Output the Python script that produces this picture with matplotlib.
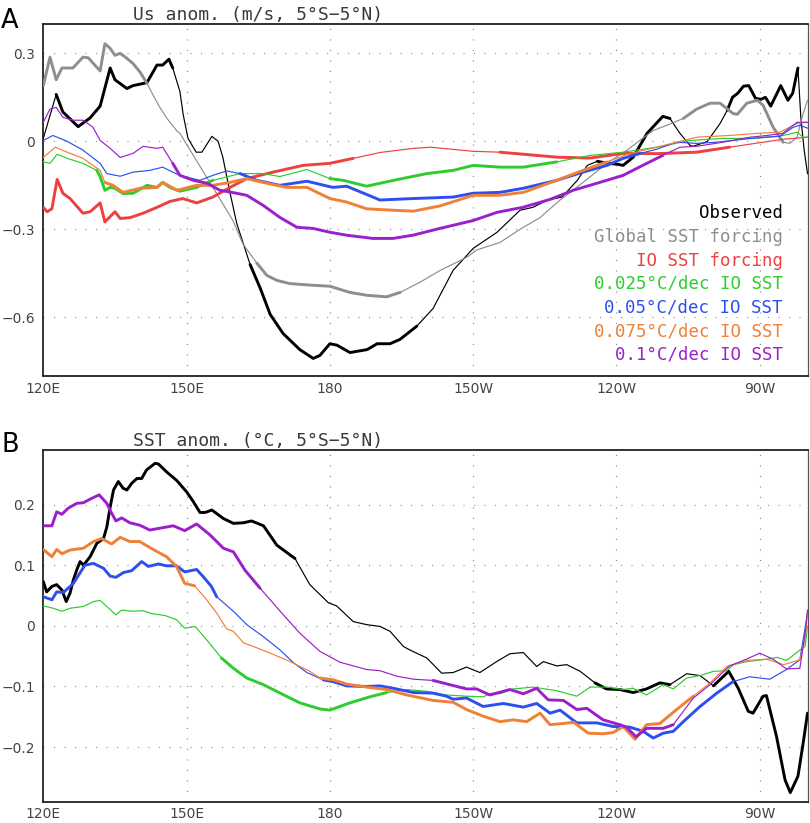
import numpy as np
import matplotlib
matplotlib.use("Agg")
import matplotlib.pyplot as plt

# ---------------- DATA ----------------
# Panel A: Us anomaly (m/s); longitudes in degrees east (0-360)
obsA_lon = [120.0,122.7,124.1,127.3,129.8,131.9,134.0,135.0,137.5,138.8,141.7,143.8,145.0,146.3,147.1,148.6,149.3,150.3,152.0,153.2,155.3,156.6,157.6,159.1,160.5,161.6,163.3,165.4,167.5,170.2,173.7,176.5,177.9,180.0,181.5,184.2,187.8,189.9,192.6,194.7,198.2,201.6,205.8,210.0,215.0,219.8,222.5,225.6,228.6,231.8,233.9,236.0,238.1,240.2,241.4,243.5,246.4,249.7,251.2,253.3,255.4,256.0,259.0,261.7,263.2,264.3,265.4,266.6,267.7,269.1,270.2,271.2,272.3,274.4,275.9,276.9,278.0,278.6,279.3,280.0]
obsA_val = [0.01,0.16,0.10,0.05,0.08,0.12,0.25,0.21,0.18,0.19,0.20,0.26,0.26,0.28,0.25,0.17,0.09,0.01,-0.037,-0.037,0.017,0.0,-0.055,-0.176,-0.28,-0.335,-0.42,-0.50,-0.59,-0.655,-0.71,-0.74,-0.73,-0.69,-0.695,-0.72,-0.71,-0.69,-0.69,-0.675,-0.63,-0.57,-0.44,-0.365,-0.31,-0.235,-0.225,-0.20,-0.19,-0.133,-0.082,-0.068,-0.075,-0.078,-0.082,-0.054,0.027,0.085,0.078,0.027,-0.014,-0.017,-0.001,0.061,0.106,0.15,0.164,0.188,0.19,0.147,0.143,0.15,0.12,0.19,0.14,0.164,0.25,0.082,-0.03,-0.11]
glbA_lon = [120.0,121.4,122.7,123.9,125.0,126.2,128.3,129.4,131.9,132.9,134.0,135.0,136.1,137.5,138.8,140.3,141.7,143.0,144.4,145.9,148.0,148.6,152.8,155.5,158.4,159.7,161.8,164.7,166.8,168.9,171.6,175.8,180.0,184.2,187.8,191.9,194.7,198.9,203.1,208.7,210.8,215.6,219.8,224.0,228.2,233.8,238.0,242.2,244.9,247.7,250.6,254.0,256.8,259.6,261.7,264.4,265.3,267.3,269.5,270.7,272.8,274.9,276.3,277.8,279.1,280.0]
glbA_val = [0.19,0.287,0.21,0.25,0.25,0.25,0.287,0.285,0.24,0.333,0.317,0.293,0.30,0.283,0.265,0.235,0.198,0.157,0.116,0.078,0.035,0.027,-0.085,-0.157,-0.235,-0.27,-0.35,-0.415,-0.457,-0.474,-0.485,-0.49,-0.494,-0.515,-0.525,-0.53,-0.515,-0.48,-0.44,-0.395,-0.37,-0.345,-0.30,-0.26,-0.20,-0.13,-0.075,-0.03,0.003,0.037,0.055,0.078,0.11,0.13,0.13,0.095,0.092,0.13,0.14,0.123,0.048,-0.003,-0.007,0.014,0.095,0.14]
ioA_lon = [120.0,120.8,121.8,122.9,124.1,125.6,128.3,129.8,131.9,132.9,135.0,136.1,138.2,140.9,143.8,146.5,149.2,152.1,155.5,159.1,162.6,168.1,174.4,180.0,184.9,190.5,197.5,201.1,210.0,215.6,227.5,234.5,241.4,248.4,256.8,263.7,270.7,274.9,280.0]
ioA_val = [-0.225,-0.24,-0.23,-0.13,-0.177,-0.195,-0.245,-0.24,-0.21,-0.275,-0.24,-0.263,-0.26,-0.245,-0.225,-0.205,-0.195,-0.21,-0.19,-0.157,-0.127,-0.105,-0.082,-0.075,-0.058,-0.038,-0.024,-0.02,-0.034,-0.037,-0.054,-0.057,-0.041,-0.042,-0.037,-0.02,-0.003,0.007,0.014]
g025A_lon = [120.0,121.4,122.9,125.0,128.3,131.2,131.9,132.9,134.0,135.0,136.7,138.8,141.7,143.8,145.0,146.5,148.6,152.1,155.5,161.2,166.0,169.5,175.2,180.0,182.8,187.7,193.3,200.3,205.8,210.0,215.6,220.5,227.5,234.5,241.4,248.4,255.4,262.3,269.4,274.9,277.8,279.1,280.0]
g025A_val = [-0.07,-0.075,-0.044,-0.058,-0.075,-0.099,-0.12,-0.167,-0.157,-0.16,-0.178,-0.177,-0.15,-0.157,-0.14,-0.157,-0.17,-0.157,-0.133,-0.11,-0.11,-0.12,-0.096,-0.127,-0.133,-0.153,-0.133,-0.11,-0.099,-0.082,-0.088,-0.088,-0.07,-0.048,-0.037,-0.02,0.003,0.01,0.01,0.02,0.031,0.014,0.014]
b05A_lon = [120.0,122.0,125.0,128.3,131.9,133.3,136.1,138.8,142.3,145.0,147.1,148.6,152.8,155.5,158.4,161.2,164.7,169.5,175.2,180.6,183.5,190.5,197.5,205.8,210.0,215.6,220.5,227.5,233.0,238.0,241.4,245.0,248.4,252.6,256.8,261.0,266.5,270.7,274.2,277.0,278.4,280.0]
b05A_val = [0.003,0.02,0.0,-0.03,-0.075,-0.11,-0.119,-0.105,-0.099,-0.088,-0.105,-0.116,-0.133,-0.116,-0.101,-0.11,-0.133,-0.15,-0.136,-0.157,-0.153,-0.20,-0.195,-0.19,-0.177,-0.174,-0.16,-0.133,-0.105,-0.082,-0.058,-0.041,-0.027,-0.003,-0.007,-0.003,0.007,0.014,0.017,0.048,0.055,0.045]
o075A_lon = [120.0,122.5,125.0,128.3,131.9,132.9,134.6,136.7,140.3,143.8,145.0,148.0,152.1,155.5,159.1,162.6,166.8,171.0,175.2,180.0,183.5,187.7,193.3,197.5,203.1,210.0,215.6,220.5,227.5,233.0,238.0,242.9,248.4,252.6,256.8,263.7,269.4,274.2,277.8,280.0]
o075A_val = [-0.055,-0.02,-0.037,-0.058,-0.099,-0.14,-0.15,-0.174,-0.16,-0.157,-0.14,-0.167,-0.15,-0.15,-0.14,-0.127,-0.143,-0.157,-0.157,-0.195,-0.207,-0.23,-0.235,-0.238,-0.22,-0.184,-0.184,-0.174,-0.133,-0.099,-0.07,-0.041,-0.02,-0.003,0.014,0.02,0.027,0.031,0.061,0.065]
p1A_lon = [120.0,121.4,122.7,124.1,126.2,128.3,130.4,131.9,134.0,136.1,138.8,140.9,143.8,145.0,147.1,148.6,151.4,154.3,157.0,159.8,162.6,166.0,169.5,173.1,176.5,180.0,183.5,189.0,193.2,197.4,203.0,210.0,215.0,220.4,226.1,230.9,235.9,241.4,245.5,249.7,253.3,256.8,262.3,267.9,271.5,274.8,277.8,280.0]
p1A_val = [0.065,0.11,0.116,0.082,0.072,0.072,0.048,0.003,-0.024,-0.055,-0.041,-0.017,-0.024,-0.02,-0.075,-0.116,-0.133,-0.143,-0.167,-0.175,-0.184,-0.218,-0.259,-0.293,-0.297,-0.31,-0.32,-0.331,-0.331,-0.32,-0.297,-0.27,-0.242,-0.225,-0.198,-0.167,-0.143,-0.116,-0.082,-0.048,-0.02,-0.017,-0.003,0.014,0.02,0.027,0.065,0.065]

# Panel B: SST anomaly (deg C)
obsB_lon = [120.0,120.7,121.8,122.8,123.9,124.8,125.6,126.3,127.0,127.7,128.4,129.8,131.2,132.6,133.3,134.0,134.7,135.7,136.7,137.5,138.5,139.6,140.6,141.6,143.4,144.1,145.8,147.9,150.0,151.4,152.8,153.9,155.3,157.7,159.8,161.9,163.6,166.1,168.9,172.7,175.8,179.7,181.4,184.9,187.7,190.5,192.6,195.4,196.8,200.3,203.4,205.8,208.6,211.4,214.9,217.7,220.5,223.3,224.7,227.5,229.6,232.4,235.5,237.9,240.7,243.5,246.3,249.1,251.2,254.7,257.5,260.3,263.5,265.5,267.6,268.6,270.7,271.4,273.5,275.3,276.4,278.0,279.1,280.0]
obsB_val = [0.073,0.056,0.065,0.068,0.059,0.04,0.054,0.076,0.092,0.106,0.10,0.114,0.136,0.144,0.163,0.196,0.224,0.238,0.227,0.224,0.235,0.243,0.243,0.257,0.268,0.267,0.254,0.24,0.221,0.205,0.187,0.187,0.191,0.177,0.169,0.17,0.173,0.165,0.133,0.111,0.068,0.038,0.033,0.007,0.002,-0.001,-0.009,-0.034,-0.04,-0.053,-0.078,-0.077,-0.068,-0.077,-0.059,-0.046,-0.044,-0.067,-0.059,-0.066,-0.064,-0.075,-0.094,-0.104,-0.105,-0.11,-0.104,-0.094,-0.097,-0.079,-0.082,-0.099,-0.075,-0.103,-0.141,-0.144,-0.116,-0.115,-0.182,-0.254,-0.275,-0.248,-0.193,-0.144]
g025B_lon = [120.0,122.1,123.9,125.6,128.4,130.5,131.9,133.3,135.2,136.4,138.8,140.9,142.7,145.5,147.9,149.6,151.8,154.2,157.3,159.8,162.6,166.1,169.6,173.7,177.9,180.0,184.2,188.4,191.9,196.1,200.3,204.4,208.6,212.1,213.9,215.6,218.4,222.6,227.5,231.7,234.5,238.0,241.4,243.5,246.3,249.8,251.9,254.7,257.5,260.3,263.1,264.5,267.3,271.5,273.6,275.6,278.4,279.5,280.0]
g025B_val = [0.033,0.029,0.024,0.029,0.032,0.04,0.042,0.032,0.018,0.026,0.024,0.025,0.02,0.017,0.01,-0.004,-0.001,-0.023,-0.053,-0.07,-0.086,-0.097,-0.111,-0.127,-0.137,-0.139,-0.127,-0.117,-0.11,-0.105,-0.108,-0.114,-0.116,-0.117,-0.111,-0.112,-0.104,-0.101,-0.107,-0.116,-0.101,-0.101,-0.105,-0.103,-0.114,-0.097,-0.104,-0.086,-0.082,-0.075,-0.074,-0.064,-0.059,-0.055,-0.052,-0.057,-0.04,-0.034,-0.001]
b05B_lon = [120.0,121.8,122.8,124.2,126.3,128.7,130.5,132.6,134.0,135.2,136.8,138.5,140.6,142.0,144.1,145.8,147.9,149.6,152.1,153.5,155.2,156.3,159.8,162.6,166.1,169.6,172.4,175.2,178.6,180.7,183.5,187.7,190.5,193.3,197.5,201.6,204.4,205.8,208.6,212.1,216.3,220.5,223.3,226.1,228.2,231.7,235.9,239.3,242.8,245.6,247.7,249.8,251.9,254.0,257.5,261.0,264.4,267.9,272.1,275.6,278.4,280.0]
b05B_val = [0.048,0.043,0.056,0.055,0.07,0.10,0.103,0.095,0.082,0.08,0.088,0.091,0.106,0.098,0.102,0.099,0.099,0.089,0.093,0.081,0.065,0.048,0.024,0.002,-0.018,-0.04,-0.061,-0.077,-0.089,-0.092,-0.099,-0.10,-0.099,-0.103,-0.11,-0.111,-0.116,-0.121,-0.119,-0.133,-0.128,-0.134,-0.128,-0.144,-0.139,-0.16,-0.16,-0.166,-0.167,-0.174,-0.185,-0.177,-0.174,-0.158,-0.133,-0.111,-0.092,-0.084,-0.088,-0.072,-0.056,0.021]
o075B_lon = [120.0,121.8,122.8,123.9,125.6,128.4,130.5,132.2,134.3,136.1,138.1,140.2,143.0,145.8,147.9,149.6,151.7,154.2,156.3,158.4,159.8,161.9,164.0,167.5,171.7,175.8,177.9,180.7,183.5,187.7,191.9,196.1,201.6,205.8,208.6,212.1,215.6,218.4,221.2,224.0,226.1,228.9,231.0,234.1,237.2,239.3,241.4,243.9,246.3,249.1,252.6,256.1,259.6,263.1,267.3,271.5,275.0,278.4,279.5,280.0]
o075B_val = [0.126,0.114,0.126,0.119,0.125,0.128,0.139,0.144,0.135,0.146,0.139,0.139,0.126,0.114,0.098,0.07,0.066,0.043,0.021,-0.005,-0.009,-0.028,-0.034,-0.045,-0.059,-0.075,-0.086,-0.089,-0.096,-0.101,-0.105,-0.114,-0.123,-0.126,-0.138,-0.149,-0.158,-0.155,-0.158,-0.144,-0.163,-0.161,-0.159,-0.177,-0.178,-0.176,-0.166,-0.187,-0.163,-0.161,-0.138,-0.116,-0.094,-0.067,-0.057,-0.055,-0.064,-0.056,-0.023,0.021]
p1B_lon = [120.0,121.8,122.8,123.9,125.2,127.0,128.4,129.8,131.7,133.3,134.3,135.2,136.4,138.1,140.2,142.3,144.4,147.2,149.6,152.1,154.9,157.7,159.8,162.2,165.4,169.6,173.7,177.9,182.1,187.7,190.5,194.0,197.5,201.6,205.1,208.6,210.7,213.5,217.7,220.5,223.3,225.7,228.9,231.7,233.8,237.2,240.7,242.1,244.1,246.3,249.8,251.9,256.1,259.6,263.7,267.2,270.0,272.8,275.6,278.4,279.5,280.0]
p1B_val = [0.165,0.165,0.188,0.184,0.194,0.202,0.203,0.209,0.216,0.202,0.186,0.173,0.178,0.17,0.166,0.158,0.161,0.165,0.157,0.168,0.15,0.128,0.122,0.092,0.062,0.024,-0.012,-0.042,-0.06,-0.072,-0.074,-0.083,-0.088,-0.09,-0.097,-0.104,-0.104,-0.114,-0.105,-0.112,-0.103,-0.122,-0.123,-0.138,-0.136,-0.155,-0.163,-0.167,-0.183,-0.169,-0.169,-0.163,-0.119,-0.097,-0.066,-0.055,-0.045,-0.055,-0.071,-0.07,-0.012,0.026]

# Longitude ranges where each curve is drawn thick (significant)
sigA = {
    "obs": [(121.5, 148.5), (162, 200), (235, 243.5), (246, 252), (262, 278.5)],
    "glb": [(120, 142), (162, 195), (252, 275)],
    "io": [(120, 188), (211, 235), (240, 265), (276, 280)],
    "g025": [(131, 160), (180, 228)],
    "b05": [(160, 245)],
    "o075": [(132, 241)],
    "p1": [(147, 253)],
}
sigB = {
    "obs": [(120, 173), (235, 252), (259, 280)],
    "g025": [(157, 192)],
    "b05": [(120, 156.5), (178.5, 264.5)],
    "o075": [(120, 153), (176.5, 257.5)],
    "p1": [(120, 166), (199.5, 256)],
}

legend_labels = ["Observed", "Global SST forcing", "IO SST forcing",
                 "0.025°C/dec IO SST", "0.05°C/dec IO SST",
                 "0.075°C/dec IO SST", "0.1°C/dec IO SST"]
xticks = [120, 150, 180, 210, 240, 270]
xticklabels = ["120E", "150E", "180", "150W", "120W", "90W"]
yticksA = [-0.6, -0.3, 0, 0.3]
yticklabelsA = ["\u22120.6", "\u22120.3", "0", "0.3"]
yticksB = [-0.2, -0.1, 0, 0.1, 0.2]
yticklabelsB = ["\u22120.2", "\u22120.1", "0", "0.1", "0.2"]
titleA = "Us anom. (m/s, 5°S\u22125°N)"
titleB = "SST anom. (°C, 5°S\u22125°N)"

# ---------------- STYLE ----------------
colors = {"obs": "#000000", "glb": "#8e8e8e", "io": "#ee4040", "g025": "#2ecc2e",
          "b05": "#2e4ff0", "o075": "#ef8036", "p1": "#9b20cc"}
W, H = 810, 823
fig = plt.figure(figsize=(W / 100, H / 100), dpi=100)


def px_axes(l, t, r, b):
    return fig.add_axes([l / W, 1 - b / H, (r - l) / W, (b - t) / H])


axA = px_axes(43.3, 24, 807.5, 376)
axB = px_axes(43.3, 450, 807.5, 801.7)


def draw(ax, key, lon, val, ranges):
    lon = np.asarray(lon, float)
    val = np.asarray(val, float)
    c = colors[key]
    ax.plot(lon, val, color=c, lw=0.85, solid_joinstyle="round", zorder=3)
    mask = np.zeros(lon.size, bool)
    for a, b in ranges:
        mask |= (lon >= a) & (lon <= b)
    ax.plot(lon, np.ma.masked_where(~mask, val), color=c, lw=2.1,
            solid_capstyle="round", solid_joinstyle="round", zorder=3)


def style(ax, ylim, yt, ytl):
    ax.set_xlim(120, 280)
    ax.set_ylim(*ylim)
    ax.set_xticks(xticks)
    ax.set_xticklabels(xticklabels)
    ax.set_yticks(yt)
    ax.set_yticklabels(ytl)
    ax.tick_params(length=0, labelsize=10, labelcolor="#444444", pad=6)
    ax.tick_params(axis="x", pad=4)
    for v in xticks[1:]:
        ax.axvline(v, color="#8a8a8a", lw=0.9, dashes=(0.9, 7.5), zorder=1)
    for v in yt:
        ax.axhline(v, color="#9a9a9a", lw=0.9, dashes=(0.9, 7.5), zorder=1)
    for s in ["left", "bottom", "top"]:
        ax.spines[s].set_linewidth(1.3)
        ax.spines[s].set_color("#222222")
    ax.spines["right"].set_linewidth(0.9)
    ax.spines["right"].set_color("#555555")


# Panel A
draw(axA, "obs", obsA_lon, obsA_val, sigA["obs"])
draw(axA, "glb", glbA_lon, glbA_val, sigA["glb"])
draw(axA, "io", ioA_lon, ioA_val, sigA["io"])
draw(axA, "g025", g025A_lon, g025A_val, sigA["g025"])
draw(axA, "b05", b05A_lon, b05A_val, sigA["b05"])
draw(axA, "o075", o075A_lon, o075A_val, sigA["o075"])
draw(axA, "p1", p1A_lon, p1A_val, sigA["p1"])
style(axA, (-0.8, 0.4), yticksA, yticklabelsA)

# Panel B
draw(axB, "obs", obsB_lon, obsB_val, sigB["obs"])
draw(axB, "g025", g025B_lon, g025B_val, sigB["g025"])
draw(axB, "b05", b05B_lon, b05B_val, sigB["b05"])
draw(axB, "o075", o075B_lon, o075B_val, sigB["o075"])
draw(axB, "p1", p1B_lon, p1B_val, sigB["p1"])
style(axB, (-0.29, 0.29), yticksB, yticklabelsB)

# Texts
mono = "DejaVu Sans Mono"
fig.text(133 / W, 1 - 20.5 / H, titleA, fontsize=13, family=mono,
         color="#3a3a3a", ha="left", va="baseline")
fig.text(133 / W, 1 - 446 / H, titleB, fontsize=13, family=mono,
         color="#3a3a3a", ha="left", va="baseline")
fig.text(1 / W, 1 - 27.5 / H, "A", fontsize=18.5, color="black",
         ha="left", va="baseline")
fig.text(1 / W, 1 - 452 / H, "B", fontsize=18.5, color="black",
         ha="left", va="baseline")

keys = ["obs", "glb", "io", "g025", "b05", "o075", "p1"]
for i, (k, lab) in enumerate(zip(keys, legend_labels)):
    fig.text(783 / W, 1 - (218.5 + 23.5 * i) / H, lab, fontsize=12.5,
             family=mono, color=colors[k], ha="right", va="baseline")

fig.savefig("out.png", dpi=100)
